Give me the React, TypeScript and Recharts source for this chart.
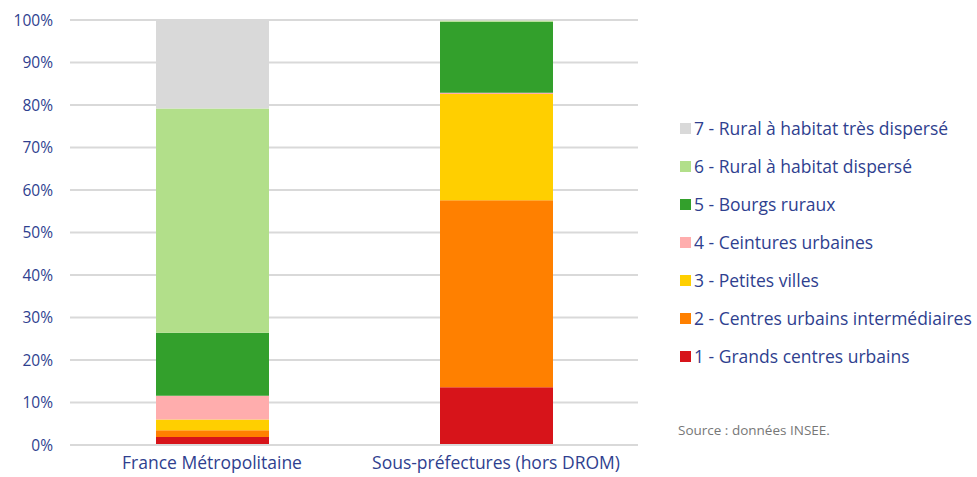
import React from 'react';
import { BarChart, Bar, XAxis, YAxis, CartesianGrid } from 'recharts';

const categories = ['France Métropolitaine', 'Sous-préfectures (hors DROM)'];

const grandsCentres = [1.9, 13.6];
const centresIntermediaires = [1.6, 44.0];
const petitesVilles = [2.5, 25.0];
const ceintures = [5.6, 0.3];
const bourgs = [14.8, 16.7];
const ruralDisperse = [52.8, 0.3];
const ruralTresDisperse = [20.8, 0.1];

const yTicks = [0, 10, 20, 30, 40, 50, 60, 70, 80, 90, 100];

const series = [
  { key: 's1', name: '1 - Grands centres urbains', color: '#d7141a', values: grandsCentres },
  { key: 's2', name: '2 - Centres urbains intermédiaires', color: '#ff8000', values: centresIntermediaires },
  { key: 's3', name: '3 - Petites villes', color: '#ffcf00', values: petitesVilles },
  { key: 's4', name: '4 - Ceintures urbaines', color: '#ffadad', values: ceintures },
  { key: 's5', name: '5 - Bourgs ruraux', color: '#33a02c', values: bourgs },
  { key: 's6', name: '6 - Rural à habitat dispersé', color: '#b2df8a', values: ruralDisperse },
  { key: 's7', name: '7 - Rural à habitat très dispersé', color: '#d9d9d9', values: ruralTresDisperse },
];

const data = categories.map((c, i) => {
  const row: any = { name: c };
  series.forEach((s) => (row[s.key] = s.values[i]));
  return row;
});

const textColor = '#2f3f8f';
const font = '"Open Sans", sans-serif';

const LegendBox = () => (
  <div style={{ position: 'absolute', left: 680, top: 109, fontFamily: font, fontSize: 17.5, color: textColor }}>
    {[...series].reverse().map((s) => (
      <div key={s.key} style={{ display: 'flex', alignItems: 'center', height: 38, whiteSpace: 'nowrap' }}>
        <span style={{ display: 'inline-block', width: 11, height: 11, background: s.color, marginRight: 3 }} />
        {s.name}
      </div>
    ))}
  </div>
);

const App: React.FC = () => {
  return (
    <div style={{ position: 'absolute', left: 0, top: 0, width: 977, height: 477, background: '#fff', overflow: 'hidden' }}>
      <BarChart
        width={977}
        height={477}
        data={data}
        barSize={113}
        margin={{ top: 20, right: 339, left: 10, bottom: 2 }}
      >
        <CartesianGrid vertical={false} stroke="#d9d9d9" strokeWidth={2} />
        <XAxis
          dataKey="name"
          height={30}
          interval={0}
          tickLine={false}
          tickSize={0}
          tickMargin={12}
          axisLine={{ stroke: '#d9d9d9', strokeWidth: 2 }}
          tick={{ fill: textColor, fontSize: 17.5, fontFamily: font }}
        />
        <YAxis
          width={60}
          domain={[0, 100]}
          ticks={yTicks}
          tickFormatter={(v) => `${v}%`}
          axisLine={false}
          tickLine={false}
          tickSize={0}
          tickMargin={17}
          tick={{ fill: textColor, fontSize: 15.5, fontFamily: font }}
        />
        {series.map((s) => (
          <Bar key={s.key} dataKey={s.key} name={s.name} stackId="a" fill={s.color} isAnimationActive={false} />
        ))}
      </BarChart>
      <LegendBox />
      <div style={{ position: 'absolute', left: 678, top: 421, fontFamily: font, fontSize: 13.5, color: '#777' }}>
        Source : données INSEE.
      </div>
    </div>
  );
};

export default App;
